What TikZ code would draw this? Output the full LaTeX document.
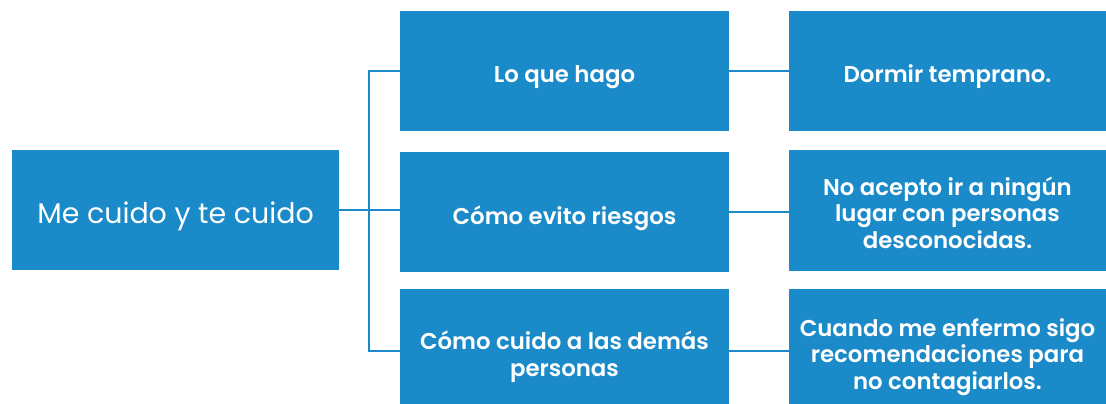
\documentclass[tikz,border=0pt]{standalone}
\usepackage{fontspec}
\setmainfont{Poppins}[BoldFont={Poppins SemiBold}]
\definecolor{boxblue}{HTML}{1B8AC8}
\begin{document}
\begin{tikzpicture}[x=0.02cm, y=-0.02cm,
	box/.style={fill=boxblue, inner sep=0pt},
	txt/.style={text=white, align=center, yshift=-3.3pt, font=\fontsize{13}{15.1}\selectfont\bfseries},
	roottxt/.style={txt, yshift=-0.4pt, font=\fontsize{16.2}{19}\selectfont},
	rootbox/.style={box, minimum width=6.54cm, minimum height=2.4cm},
	midbox/.style={box, minimum width=6.58cm},
	leafbox/.style={box, minimum width=6.34cm},
	link/.style={draw=boxblue, line width=1.1pt}]
	\useasboundingbox (0,0) rectangle (1106,404);
	\node[rootbox, label={[roottxt]center:Me cuido y te cuido}] (root) at (175.5,210) {};
	\node[midbox, minimum height=2.4cm, label={[txt]center:Lo que hago}] (hago) at (564.5,71) {};
	\node[midbox, minimum height=2.4cm, label={[txt]center:Cómo evito riesgos}] (riesgos) at (564.5,212) {};
	\node[midbox, minimum height=2.5cm, label={[txt]center:Cómo cuido a las demás\\personas}] (demas) at (564.5,351) {};
	\node[leafbox, minimum height=2.4cm, label={[txt]center:Dormir temprano.}] (dormir) at (947.5,71) {};
	\node[leafbox, minimum height=2.42cm, label={[txt, yshift=2pt]center:No acepto ir a ningún\\lugar con personas\\desconocidas.}] (lugar) at (947.5,210.5) {};
	\node[leafbox, minimum height=2.5cm, label={[txt]center:Cuando me enfermo sigo\\recomendaciones para\\no contagiarlos.}] (enfermo) at (947.5,351) {};
	% ramas
	\draw[link] (root.east) -- ++(30,0) coordinate (sp);
	\draw[link] (sp) |- (hago.west);
	\draw[link] (sp) |- (demas.west);
	\draw[link] (sp) -- (sp -| riesgos.west);
	\draw[link] (hago.east) -- (dormir.west);
	\draw[link] (riesgos.east) -- (riesgos.east -| lugar.west);
	\draw[link] (demas.east) -- (enfermo.west);
\end{tikzpicture}
\end{document}
